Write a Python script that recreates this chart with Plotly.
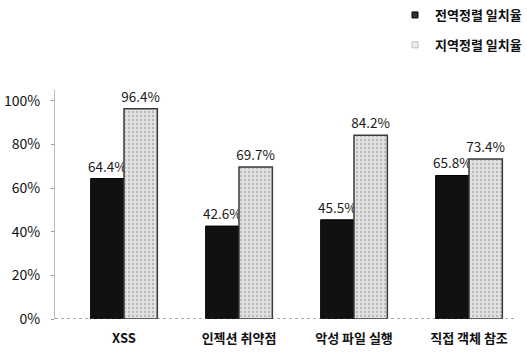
import plotly.graph_objects as go

categories = ["XSS", "인젝션 취약점", "악성 파일 실행", "직접 객체 참조"]
global_rate = [64.4, 42.6, 45.5, 65.8]
local_rate = [96.4, 69.7, 84.2, 73.4]
series_names = ["전역정렬 일치율", "지역정렬 일치율"]
tick_vals = [0, 20, 40, 60, 80, 100]
tick_text = ["0%", "20%", "40%", "60%", "80%", "100%"]

FONT = "Noto Sans CJK KR"
BLACK = "#111111"
GREY_BG = "#e2e2e2"

fig = go.Figure()
fig.add_trace(go.Bar(
    x=categories, y=global_rate, name=series_names[0], showlegend=False,
    marker=dict(color=BLACK, line=dict(color="#000000", width=1)),
    text=[f"{v}%" for v in global_rate], textposition="outside", constraintext="none",
    textfont=dict(family=FONT, size=13.5, color="#1a1a1a"), cliponaxis=False,
))
fig.add_trace(go.Bar(
    x=categories, y=local_rate, name=series_names[1], showlegend=False,
    marker=dict(color="#d4d4d4", line=dict(color="#3a3a3a", width=1.5),
                pattern=dict(shape=".", fgcolor="#8a8a8a", bgcolor=GREY_BG, size=4, solidity=0.25)),
    text=[f"{v}%" for v in local_rate], textposition="outside", constraintext="none",
    textfont=dict(family=FONT, size=13.5, color="#1a1a1a"), cliponaxis=False,
))
# legend entries (small square markers as in the reference)
fig.add_trace(go.Scatter(x=[None], y=[None], mode="markers", name=series_names[0],
                         legendgroup="g1",
                         marker=dict(symbol="square", size=6, color="#333333",
                                     line=dict(color="#000000", width=1))))
fig.add_trace(go.Scatter(x=[None], y=[None], mode="markers", name=series_names[1],
                         legendgroup="g2",
                         marker=dict(symbol="square", size=6, color="#f0f0f0",
                                     line=dict(color="#bbbbbb", width=1))))

fig.update_layout(
    width=527, height=353,
    margin=dict(l=55, r=12, t=90, b=34, autoexpand=False),
    paper_bgcolor="white", plot_bgcolor="white",
    barmode="group", bargap=0.42, bargroupgap=0,
    font=dict(family=FONT, size=12, color="#111111"),
    legend=dict(xref="container", yref="container", x=1.0, xanchor="right",
                y=1.0, yanchor="top",
                font=dict(family=FONT, size=13, color="#111111", weight="bold"),
                tracegroupgap=10, itemwidth=30, bgcolor="rgba(0,0,0,0)"),
    showlegend=True,
)
fig.update_xaxes(range=[-0.6, 3.4], showgrid=False, showline=False, zeroline=False,
                 ticks="", ticklabelstandoff=10, tickangle=0, automargin=False,
                 tickfont=dict(family=FONT, size=13, color="#111111", weight="bold"))
fig.update_yaxes(range=[0, 105], tickvals=tick_vals, ticktext=tick_text, showgrid=False,
                 zeroline=False, showline=True, linecolor="#bbbbbb", linewidth=1,
                 ticks="outside", ticklen=3, tickcolor="#999999", ticklabelstandoff=8,
                 automargin=False,
                 tickfont=dict(family=FONT, size=14, color="#111111"))
fig.add_shape(type="line", xref="paper", yref="y", x0=0, x1=1, y0=0, y1=0,
              line=dict(color="#555555", width=1, dash="dot"))

fig.write_html("out.html")
